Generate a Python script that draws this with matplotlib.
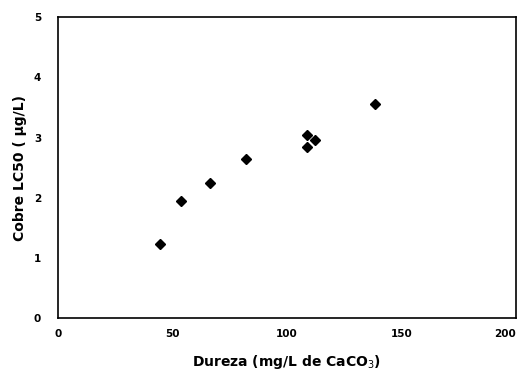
import matplotlib
matplotlib.use("Agg")
import matplotlib.pyplot as plt

# hardness (mg/L CaCO3) vs copper LC50
dureza = [44.5, 53.7, 66.4, 82.0, 108.6, 112.2, 108.6, 138.4]
lc50 = [1.24, 1.95, 2.24, 2.65, 3.05, 2.96, 2.85, 3.55]

x_ticks = [0, 50, 100, 150, 200]
y_ticks = [0, 1, 2, 3, 4, 5]

fig = plt.figure(figsize=(5.17, 3.73), dpi=100)
ax = fig.add_axes([0.112, 0.147, 0.886, 0.807])

ax.plot(dureza, lc50, linestyle='none', marker='D', markersize=5.2,
        color='black')

ax.set_xlim(0, 200)
ax.set_ylim(0, 5)
ax.set_xticks(x_ticks)
ax.set_yticks(y_ticks)
ax.set_xticklabels([str(v) for v in x_ticks], fontsize=7.5, fontweight='bold')
ax.set_yticklabels([str(v) for v in y_ticks], fontsize=7.5, fontweight='bold')
ax.tick_params(length=0)
ax.tick_params(axis='x', pad=8)
ax.tick_params(axis='y', pad=12)
ax.get_xticklabels()[-1].set_horizontalalignment('right')

for sp in ax.spines.values():
    sp.set_linewidth(1.2)

ax.set_xlabel("Dureza (mg/L de CaCO$_3$)", fontsize=10, fontweight='bold',
              labelpad=10)
ax.set_ylabel("Cobre LC50 ( \u00b5g/L)", fontsize=10, fontweight='bold',
              labelpad=5)

fig.savefig("out.png", dpi=100)
plt.close(fig)
